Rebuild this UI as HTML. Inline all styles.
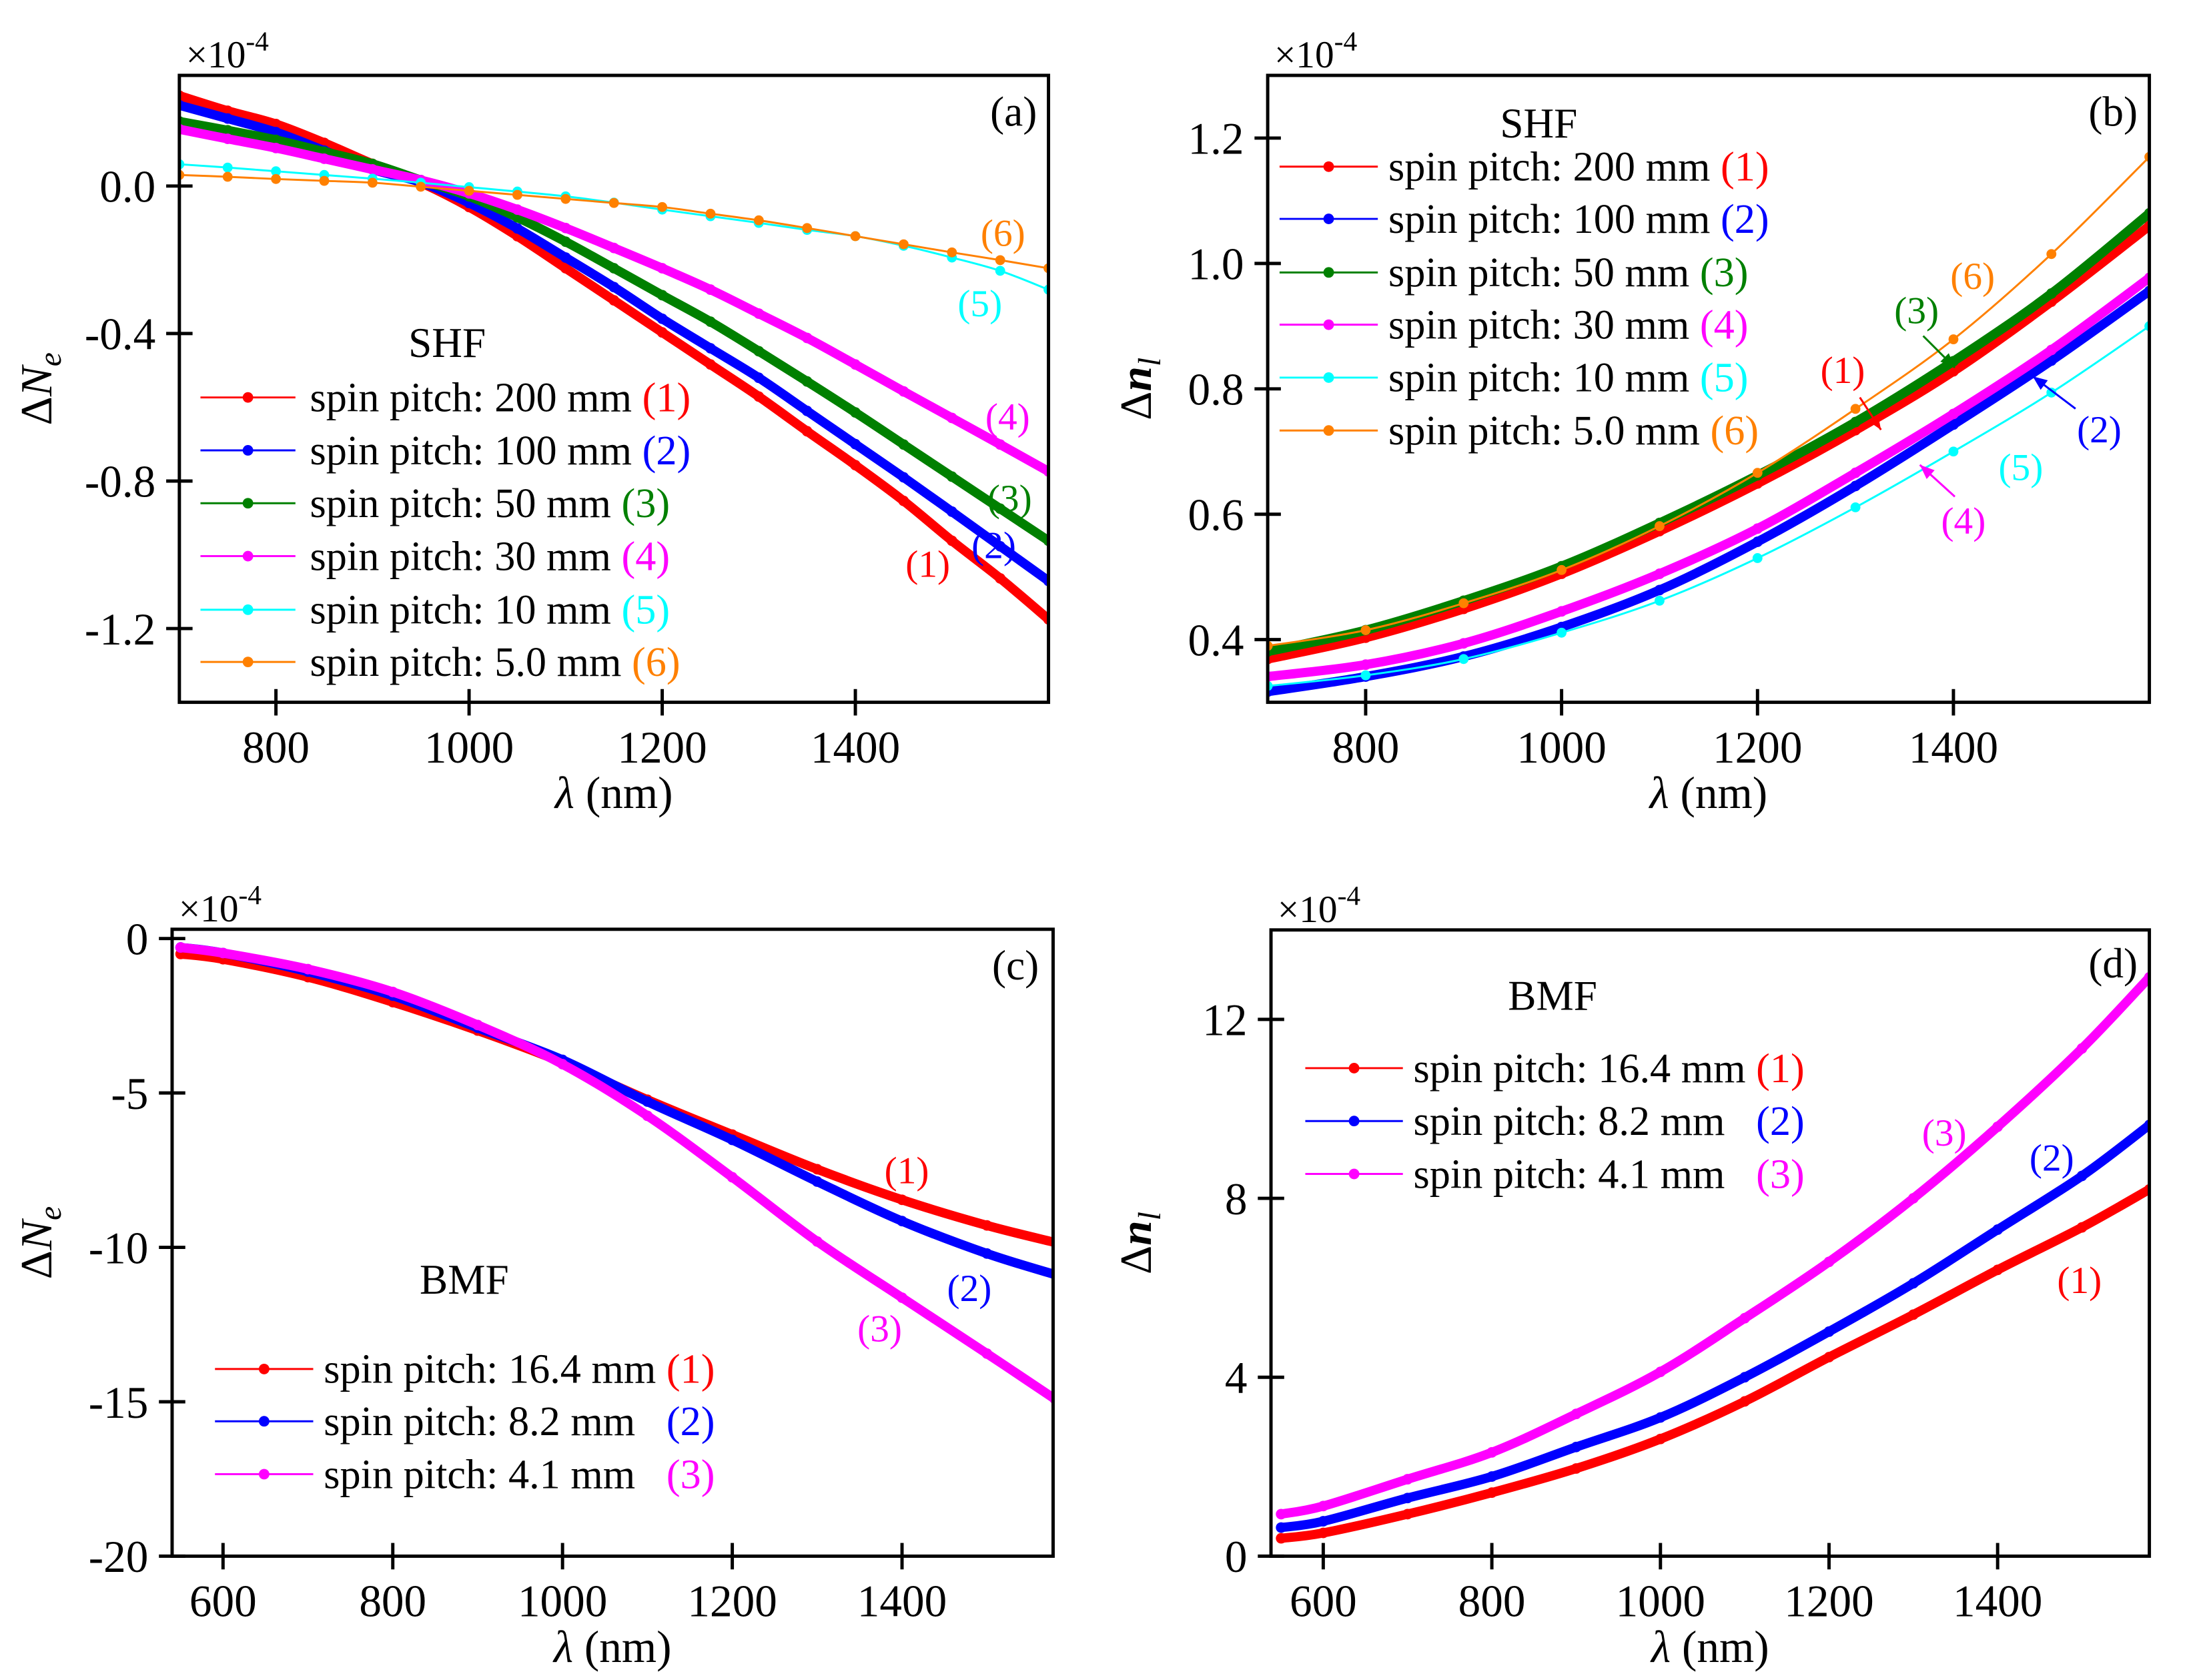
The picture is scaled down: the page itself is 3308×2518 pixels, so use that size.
<!DOCTYPE html>
<html><head><meta charset="utf-8"><style>
html,body{margin:0;padding:0;background:#fff;}
svg{display:block;font-family:"Liberation Serif","DejaVu Serif",serif;}
</style></head><body>
<svg id="fig" width="3308" height="2518" viewBox="0 0 3308 2518" xmlns="http://www.w3.org/2000/svg"></svg>
<script>
// ---------- data ----------
const aX = [700,750,800,850,900,950,1000,1050,1100,1150,1200,1250,1300,1350,1400,1450,1500,1550,1600];
const aS1 = [0.245,0.204,0.168,0.117,0.06,0.009,-0.057,-0.136,-0.223,-0.31,-0.397,-0.484,-0.571,-0.665,-0.757,-0.854,-0.962,-1.064,-1.175];
const aS2 = [0.219,0.183,0.146,0.096,0.045,0.01,-0.046,-0.115,-0.194,-0.274,-0.36,-0.44,-0.52,-0.61,-0.70,-0.79,-0.883,-0.977,-1.071];
const aS3 = [0.175,0.151,0.125,0.093,0.06,0.016,-0.028,-0.085,-0.151,-0.223,-0.296,-0.368,-0.448,-0.53,-0.614,-0.701,-0.788,-0.875,-0.962];
const aS4 = [0.154,0.128,0.103,0.074,0.045,0.016,-0.02,-0.064,-0.114,-0.168,-0.223,-0.281,-0.346,-0.412,-0.484,-0.557,-0.629,-0.701,-0.774];
const aS5 = [0.059,0.05,0.04,0.03,0.02,0.009,-0.003,-0.015,-0.028,-0.045,-0.064,-0.082,-0.1,-0.119,-0.136,-0.162,-0.194,-0.23,-0.281];
const aS6 = [0.03,0.025,0.019,0.014,0.009,-0.002,-0.013,-0.024,-0.035,-0.046,-0.057,-0.075,-0.093,-0.114,-0.136,-0.158,-0.18,-0.201,-0.223];
const aYTicks = [0.0,-0.4,-0.8,-1.2];
const aYLabels = ["0.0","-0.4","-0.8","-1.2"];

const bX = [700,800,900,1000,1100,1200,1300,1400,1500,1600];
const bS1 = [0.369,0.403,0.449,0.505,0.573,0.649,0.734,0.828,0.939,1.06];
const bS2 = [0.317,0.341,0.373,0.42,0.479,0.556,0.645,0.743,0.845,0.956];
const bS3 = [0.381,0.415,0.462,0.517,0.586,0.662,0.747,0.844,0.952,1.08];
const bS4 = [0.341,0.36,0.394,0.445,0.505,0.577,0.666,0.76,0.862,0.977];
const bS5 = [0.326,0.343,0.369,0.411,0.462,0.53,0.611,0.7,0.794,0.9];
const bS6 = [0.39,0.415,0.458,0.511,0.581,0.666,0.768,0.879,1.015,1.17];
const bYTicks = [0.4,0.6,0.8,1.0,1.2];
const bYLabels = ["0.4","0.6","0.8","1.0","1.2"];

const xTicks = [800,1000,1200,1400];
const xTicks2 = [600,800,1000,1200,1400];

const cX = [550,600,700,800,900,1000,1100,1200,1300,1400,1500,1580];
const cS1 = [-0.5,-0.67,-1.25,-2.06,-2.98,-4.01,-5.22,-6.35,-7.47,-8.46,-9.29,-9.84];
const cS2 = [-0.29,-0.47,-1.07,-1.85,-2.89,-3.93,-5.28,-6.52,-7.87,-9.15,-10.2,-10.88];
const cS3 = [-0.29,-0.47,-0.99,-1.73,-2.8,-4.07,-5.74,-7.73,-9.81,-11.63,-13.44,-14.91];
const cYTicks = [0,-5,-10,-15,-20];
const cYLabels = ["0","-5","-10","-15","-20"];

const dX = [550,600,700,800,900,1000,1100,1200,1300,1400,1500,1580];
const dS1 = [0.4,0.52,0.94,1.42,1.96,2.62,3.46,4.45,5.4,6.4,7.35,8.2];
const dS2 = [0.64,0.78,1.3,1.78,2.44,3.1,4.0,5.02,6.1,7.3,8.5,9.64];
const dS3 = [0.94,1.12,1.72,2.32,3.18,4.12,5.32,6.58,8.0,9.6,11.35,12.94];
const dYTicks = [0,4,8,12];
const dYLabels = ["0","4","8","12"];

const RED="#ff0000", BLUE="#0000ff", GREEN="#008000", MAG="#ff00ff", CYAN="#00ffff", ORG="#ff8000";
const NS="http://www.w3.org/2000/svg";
const svg=document.getElementById('fig');
function mk(tag,attrs,parent){const e=document.createElementNS(NS,tag);for(const k in attrs)e.setAttribute(k,attrs[k]);(parent||svg).appendChild(e);return e;}
function txt(x,y,s,size,anchor,fill,parent){const t=mk('text',{x:x,y:y,'font-size':size,'text-anchor':anchor||'start',fill:fill||'#000'},parent);t.textContent=s;return t;}

function smooth(pts){
  let d="M"+pts[0][0]+","+pts[0][1];
  for(let i=0;i<pts.length-1;i++){
    const p0=pts[Math.max(0,i-1)],p1=pts[i],p2=pts[i+1],p3=pts[Math.min(pts.length-1,i+2)];
    const c1=[p1[0]+(p2[0]-p0[0])/6,p1[1]+(p2[1]-p0[1])/6];
    const c2=[p2[0]-(p3[0]-p1[0])/6,p2[1]-(p3[1]-p1[1])/6];
    d+=" C"+c1[0]+","+c1[1]+" "+c2[0]+","+c2[1]+" "+p2[0]+","+p2[1];
  }
  return d;
}

function panel(cfg){
  const ox=cfg.ox, oy=cfg.oy;
  const g=mk('g',{transform:'translate('+ox+','+oy+') scale(0.9884,0.99114) translate('+(-ox)+','+(-oy)+')'});
  
  
  const L=cfg.L,R=cfg.R,T=cfg.T,B=cfg.B;
  const sx=v=>L+(v-cfg.x0)/(cfg.x1-cfg.x0)*(R-L);
  const sy=v=>B-(v-cfg.y0)/(cfg.y1-cfg.y0)*(B-T);
  const clip=mk('clipPath',{id:'clip-'+cfg.name},g);
  mk('rect',{x:L,y:T,width:R-L,height:B-T},clip);
  const plot=mk('g',{'clip-path':'url(#clip-'+cfg.name+')'},g);
  cfg.series.forEach((s,i)=>{
    const pts=s.y.map((v,j)=>[sx(s.x[j]),sy(v)]);
    const sg=mk('g',{},plot);
    
    
    const p=mk('path',{d:smooth(pts),fill:'none',stroke:s.c,'stroke-width':s.dense?14:3,'stroke-linecap':'round'},sg);
    
    
    pts.forEach(pt=>{
      const c=mk('circle',{cx:pt[0],cy:pt[1],r:s.dense?8:7.5,fill:s.c},sg);
      
      
    });
  });
  const fr=mk('rect',{x:L,y:T,width:R-L,height:B-T,fill:'none',stroke:'#000','stroke-width':5},g);
  
  
  cfg.xt.forEach(v=>{
    const x=sx(v);
    const l=mk('line',{x1:x,x2:x,y1:B-20,y2:B+20,stroke:'#000','stroke-width':5},g);
    
    
    const t=txt(x,B+91,String(v),68,'middle','#000',g);
    
    
  });
  cfg.yt.forEach((v,i)=>{
    const y=sy(v);
    const l=mk('line',{x1:L-20,x2:L+20,y1:y,y2:y,stroke:'#000','stroke-width':5},g);
    
    
    const t=txt(L-36,y+24,cfg.yl[i],68,'end','#000',g);
    
    
  });
  const m=mk('text',{x:L+10,y:T-12,'font-size':58},g);
  
  
  m.innerHTML='×10<tspan dy="-26" font-size="42">-4</tspan>';
  const xt=mk('text',{x:(L+R)/2,y:B+160,'font-size':68,'text-anchor':'middle'},g);
  
  
  xt.innerHTML='<tspan font-style="italic">λ</tspan> (nm)';
  const yc=(T+B)/2;
  const yt=mk('text',{x:cfg.yTitleX,y:yc,'font-size':68,'text-anchor':'middle',transform:'rotate(-90 '+cfg.yTitleX+' '+yc+')'},g);
  
  
  yt.innerHTML=cfg.yTitle;
  const pl=txt(cfg.letter[0],cfg.letter[1],cfg.letter[2],64,'middle','#000',g);
  
  
  const lg=mk('g',{},g);
  
  
  const ttl=txt(cfg.leg.title[0],cfg.leg.title[1],cfg.leg.titleText,64,'middle','#000',lg);
  
  
  cfg.leg.rows.forEach((r,i)=>{
    const y=cfg.leg.ys[i];
    const e=mk('g',{},lg);
    
    
    mk('line',{x1:cfg.leg.x1,x2:cfg.leg.x2,y1:y,y2:y,stroke:r.c,'stroke-width':3},e);
    mk('circle',{cx:(cfg.leg.x1+cfg.leg.x2)/2,cy:y,r:8,fill:r.c},e);
    const t=mk('text',{x:cfg.leg.tx,y:y+21,'font-size':63,style:'white-space:pre'},e);
    t.innerHTML=r.t+'<tspan fill="'+r.c+'">'+r.n+'</tspan>';
  });
  (cfg.ann||[]).forEach(a=>{
    const t=txt(a[0],a[1],a[2],58,'middle',a[3],g);
    
    
  });
  (cfg.arrows||[]).forEach(a=>{
    const gg=mk('g',{},g);
    
    
    mk('line',{x1:a[0],y1:a[1],x2:a[2],y2:a[3],stroke:a[4],'stroke-width':3},gg);
    const ang=Math.atan2(a[3]-a[1],a[2]-a[0]);
    const hl=22,hw=9;
    const bx=a[2]-hl*Math.cos(ang),by=a[3]-hl*Math.sin(ang);
    mk('polygon',{points:a[2]+','+a[3]+' '+(bx-hw*Math.sin(ang))+','+(by+hw*Math.cos(ang))+' '+(bx+hw*Math.sin(ang))+','+(by-hw*Math.cos(ang)),fill:a[4]},gg);
  });
}

panel({name:'panel-a',ox:0,oy:0,L:272,R:1590,T:114,B:1062,x0:700,x1:1600,y0:-1.4,y1:0.3,
  xt:xTicks,yt:aYTicks,yl:aYLabels,yTitleX:78,
  yTitle:'Δ<tspan font-style="italic">N</tspan><tspan font-style="italic" dy="14" font-size="48">e</tspan>',
  letter:[1537,190,'(a)'],
  series:[{x:aX,y:aS1,c:RED,dense:1},{x:aX,y:aS2,c:BLUE,dense:1},{x:aX,y:aS3,c:GREEN,dense:1},{x:aX,y:aS4,c:MAG,dense:1},{x:aX,y:aS5,c:CYAN},{x:aX,y:aS6,c:ORG}],
  leg:{title:[678,540],titleText:'SHF',x1:304,x2:448,tx:470,ys:[601,681,761,841,922,1001],
    rows:[{t:'spin pitch: 200 mm ',n:'(1)',c:RED},{t:'spin pitch: 100 mm ',n:'(2)',c:BLUE},{t:'spin pitch: 50 mm ',n:'(3)',c:GREEN},{t:'spin pitch: 30 mm ',n:'(4)',c:MAG},{t:'spin pitch: 10 mm ',n:'(5)',c:CYAN},{t:'spin pitch: 5.0 mm ',n:'(6)',c:ORG}]},
  ann:[[1521,372,'(6)',ORG],[1486,478,'(5)',CYAN],[1528,650,'(4)',MAG],[1531,773,'(3)',GREEN],[1507,844,'(2)',BLUE],[1407,872,'(1)',RED]]
});
panel({name:'panel-b',ox:1654,oy:0,L:1903,R:3240,T:114,B:1062,x0:700,x1:1600,y0:0.3,y1:1.3,
  xt:xTicks,yt:bYTicks,yl:bYLabels,yTitleX:1726,
  yTitle:'Δ<tspan font-style="italic" font-weight="bold">n</tspan><tspan font-style="italic" dy="14" font-size="48">l</tspan>',
  letter:[3185,190,'(b)'],
  series:[{x:bX,y:bS1,c:RED,dense:1},{x:bX,y:bS2,c:BLUE,dense:1},{x:bX,y:bS3,c:GREEN,dense:1},{x:bX,y:bS4,c:MAG,dense:1},{x:bX,y:bS5,c:CYAN},{x:bX,y:bS6,c:ORG}],
  leg:{title:[2314,208],titleText:'SHF',x1:1921,x2:2070,tx:2086,ys:[252,331,412,491,571,651],
    rows:[{t:'spin pitch: 200 mm ',n:'(1)',c:RED},{t:'spin pitch: 100 mm ',n:'(2)',c:BLUE},{t:'spin pitch: 50 mm ',n:'(3)',c:GREEN},{t:'spin pitch: 30 mm ',n:'(4)',c:MAG},{t:'spin pitch: 10 mm ',n:'(5)',c:CYAN},{t:'spin pitch: 5.0 mm ',n:'(6)',c:ORG}]},
  ann:[[2972,437,'(6)',ORG],[2887,489,'(3)',GREEN],[2775,579,'(1)',RED],[3164,669,'(2)',BLUE],[3045,726,'(5)',CYAN],[2958,807,'(4)',MAG]],
  arrows:[[2897,508,2945,556,GREEN],[2801,601,2833,650,RED],[3128,618,3063,569,BLUE],[2945,751,2892,703,MAG]]
});
panel({name:'panel-c',ox:0,oy:1259,L:261,R:1597,T:1394,B:2342,x0:540,x1:1578,y0:-20,y1:0.3,
  xt:xTicks2,yt:cYTicks,yl:cYLabels,yTitleX:78,
  yTitle:'Δ<tspan font-style="italic">N</tspan><tspan font-style="italic" dy="14" font-size="48">e</tspan>',
  letter:[1540,1470,'(c)'],
  series:[{x:cX,y:cS1,c:RED,dense:1},{x:cX,y:cS2,c:BLUE,dense:1},{x:cX,y:cS3,c:MAG,dense:1}],
  leg:{title:[704,1945],titleText:'BMF',x1:326,x2:475,tx:491,ys:[2059,2138,2218],
    rows:[{t:'spin pitch: 16.4 mm ',n:'(1)',c:RED},{t:'spin pitch: 8.2 mm   ',n:'(2)',c:BLUE},{t:'spin pitch: 4.1 mm   ',n:'(3)',c:MAG}]},
  ann:[[1375,1778,'(1)',RED],[1470,1956,'(2)',BLUE],[1334,2017,'(3)',MAG]]
});
panel({name:'panel-d',ox:1654,oy:1259,L:1908,R:3240,T:1395,B:2342,x0:538,x1:1580,y0:0,y1:14,
  xt:xTicks2,yt:dYTicks,yl:dYLabels,yTitleX:1726,
  yTitle:'Δ<tspan font-style="italic" font-weight="bold">n</tspan><tspan font-style="italic" dy="14" font-size="48">l</tspan>',
  letter:[3185,1467,'(d)'],
  series:[{x:dX,y:dS1,c:RED,dense:1},{x:dX,y:dS2,c:BLUE,dense:1},{x:dX,y:dS3,c:MAG,dense:1}],
  leg:{title:[2335,1516],titleText:'BMF',x1:1960,x2:2108,tx:2124,ys:[1604,1684,1764],
    rows:[{t:'spin pitch: 16.4 mm ',n:'(1)',c:RED},{t:'spin pitch: 8.2 mm   ',n:'(2)',c:BLUE},{t:'spin pitch: 4.1 mm   ',n:'(3)',c:MAG}]},
  ann:[[2929,1721,'(3)',MAG],[3092,1759,'(2)',BLUE],[3134,1944,'(1)',RED]]
});
</script>
</body></html>
